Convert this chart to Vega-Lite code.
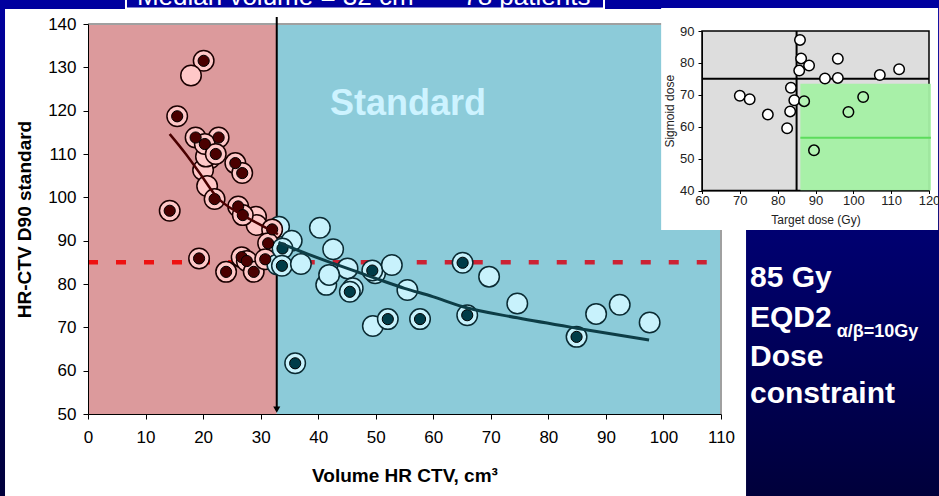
{
  "$schema": "https://vega.github.io/schema/vega-lite/v6.json",
  "width": 633,
  "height": 390,
  "autosize": {"type": "none"},
  "padding": {"left": 88, "top": 24, "right": 218, "bottom": 82},
  "background": "#000080",
  "config": {"font": "Liberation Sans", "view": {"stroke": null}, "axis": {"grid": false}},
  "resolve": {"scale": {"x": "independent", "y": "independent"}},
  "layer": [
    {
      "encoding": {
        "x": {"field": "vol", "type": "quantitative",
          "scale": {"domain": [0, 110], "nice": false, "zero": false},
          "axis": {"title": "Volume HR CTV, cm³", "values": [0,10,20,30,40,50,60,70,80,90,100,110], "orient": "bottom", "zindex": 2,
            "domainColor": "black", "tickColor": "black", "tickSize": 5, "labelFontSize": 17, "labelColor": "black",
            "labelPadding": 10, "labelFlush": false, "labelOverlap": false, "titleFontSize": 19, "titleFontWeight": "bold",
            "titleColor": "black", "titlePadding": 21}},
        "y": {"field": "dose", "type": "quantitative",
          "scale": {"domain": [50, 140], "nice": false, "zero": false},
          "axis": {"title": "HR-CTV D90 standard", "values": [50,60,70,80,90,100,110,120,130,140], "orient": "left", "zindex": 2,
            "domainColor": "black", "tickColor": "black", "tickSize": 5, "labelFontSize": 17, "labelColor": "black",
            "labelPadding": 7, "labelFlush": false, "labelOverlap": false, "titleFontSize": 19, "titleFontWeight": "bold",
            "titleColor": "black", "titlePadding": 13}}
      },
      "layer": [
        {
          "data": {"values": [{"vol": -16, "vol2": 149, "dose": 146, "dose2": 30}]},
          "mark": {"type": "rect", "fill": {"gradient": "linear", "x1": 0, "y1": 0, "x2": 0, "y2": 1,
            "stops": [{"offset": 0, "color": "#0000a0"}, {"offset": 1, "color": "#00003a"}]}},
          "encoding": {"x2": {"field": "vol2"}, "y2": {"field": "dose2"}}
        },
        {
          "data": {"values": [{"vol": -14.42, "vol2": 114.35, "dose": 143.46, "dose2": 30}]},
          "mark": {"type": "rect", "fill": "white"},
          "encoding": {"x2": {"field": "vol2"}, "y2": {"field": "dose2"}}
        },
        {
          "data": {"values": [{"vol": 0, "vol2": 32.8, "dose": 50, "dose2": 140, "zone": "low"}, {"vol": 32.8, "vol2": 110, "dose": 50, "dose2": 140, "zone": "std"}]},
          "mark": {"type": "rect"},
          "encoding": {"x2": {"field": "vol2"}, "y2": {"field": "dose2"},
            "fill": {"condition": {"test": "datum.zone === 'low'", "value": "#dc9a9c"}, "value": "#8ccbd9"}}
        },
        {
          "data": {"values": [{"vol": 0, "vol2": 110, "dose": 140, "dose2": 140}, {"vol": 110, "vol2": 110, "dose": 50, "dose2": 140}]},
          "mark": {"type": "rule", "color": "#a0a0a0", "strokeWidth": 2},
          "encoding": {"x2": {"field": "vol2"}, "y2": {"field": "dose2"}}
        },
        {
          "data": {"values": [{"vol": 42.05, "dose": 119, "label": "Standard"}]},
          "mark": {"type": "text", "align": "left", "baseline": "alphabetic", "fontSize": 36, "fontWeight": "bold", "color": "#cdf3ff"},
          "encoding": {"text": {"field": "label"}}
        },
        {
          "data": {"values": [{"vol": 0, "vol2": 32.8, "dose": 85, "part": "low"}, {"vol": 32.8, "vol2": 110, "dose": 85, "part": "std"}]},
          "mark": {"type": "rule", "strokeWidth": 4.5, "strokeDash": [10, 18]},
          "encoding": {"x2": {"field": "vol2"},
            "color": {"condition": {"test": "datum.part === 'low'", "value": "#ee1111"}, "value": "#cc2233"}}
        },
        {
          "data": {"values": [{"vol": 32.8, "dose": 141.6, "dose2": 51}]},
          "mark": {"type": "rule", "color": "black", "strokeWidth": 2},
          "encoding": {"y2": {"field": "dose2"}}
        },
        {
          "data": {"values": [{"vol": 32.8, "dose": 51}]},
          "mark": {"type": "point", "shape": "triangle-down", "filled": true, "color": "black", "size": 50, "opacity": 1},
          "encoding": {}
        },
        {
          "data": {"values": [
            {"vol": 20.1, "dose": 131.5, "grp": "r", "kind": "b"},
            {"vol": 17.9, "dose": 128.1, "grp": "r", "kind": "o"},
            {"vol": 15.5, "dose": 118.7, "grp": "r", "kind": "b"},
            {"vol": 21.2, "dose": 109.0, "grp": "r", "kind": "o"},
            {"vol": 20.0, "dose": 106.3, "grp": "r", "kind": "o"},
            {"vol": 20.5, "dose": 109.4, "grp": "r", "kind": "o"},
            {"vol": 18.7, "dose": 113.8, "grp": "r", "kind": "b"},
            {"vol": 22.7, "dose": 113.8, "grp": "r", "kind": "b"},
            {"vol": 20.3, "dose": 112.3, "grp": "r", "kind": "b"},
            {"vol": 22.2, "dose": 110.0, "grp": "r", "kind": "b"},
            {"vol": 25.6, "dose": 107.9, "grp": "r", "kind": "b"},
            {"vol": 26.8, "dose": 105.6, "grp": "r", "kind": "b"},
            {"vol": 20.7, "dose": 102.6, "grp": "r", "kind": "o"},
            {"vol": 22.0, "dose": 99.6, "grp": "r", "kind": "b"},
            {"vol": 14.2, "dose": 96.9, "grp": "r", "kind": "b"},
            {"vol": 29.2, "dose": 95.5, "grp": "r", "kind": "o"},
            {"vol": 29.3, "dose": 93.6, "grp": "r", "kind": "o"},
            {"vol": 26.1, "dose": 97.9, "grp": "r", "kind": "b"},
            {"vol": 26.9, "dose": 95.9, "grp": "r", "kind": "b"},
            {"vol": 33.2, "dose": 93.2, "grp": "s", "kind": "o"},
            {"vol": 32.0, "dose": 92.6, "grp": "r", "kind": "b"},
            {"vol": 31.3, "dose": 89.4, "grp": "r", "kind": "b"},
            {"vol": 19.3, "dose": 85.9, "grp": "r", "kind": "b"},
            {"vol": 26.7, "dose": 86.2, "grp": "r", "kind": "b"},
            {"vol": 27.6, "dose": 85.3, "grp": "r", "kind": "b"},
            {"vol": 24.0, "dose": 82.8, "grp": "r", "kind": "b"},
            {"vol": 28.8, "dose": 82.8, "grp": "r", "kind": "b"},
            {"vol": 30.8, "dose": 85.7, "grp": "r", "kind": "b"},
            {"vol": 32.9, "dose": 84.5, "grp": "s", "kind": "o"},
            {"vol": 35.4, "dose": 90.0, "grp": "s", "kind": "o"},
            {"vol": 33.8, "dose": 88.2, "grp": "s", "kind": "b"},
            {"vol": 33.7, "dose": 84.2, "grp": "s", "kind": "b"},
            {"vol": 37.0, "dose": 84.6, "grp": "s", "kind": "o"},
            {"vol": 40.3, "dose": 93.0, "grp": "s", "kind": "o"},
            {"vol": 42.6, "dose": 88.0, "grp": "s", "kind": "o"},
            {"vol": 45.1, "dose": 83.6, "grp": "s", "kind": "o"},
            {"vol": 41.4, "dose": 79.8, "grp": "s", "kind": "o"},
            {"vol": 41.9, "dose": 82.1, "grp": "s", "kind": "o"},
            {"vol": 46.0, "dose": 79.0, "grp": "s", "kind": "o"},
            {"vol": 45.5, "dose": 78.2, "grp": "s", "kind": "b"},
            {"vol": 49.9, "dose": 82.5, "grp": "s", "kind": "o"},
            {"vol": 49.4, "dose": 83.1, "grp": "s", "kind": "b"},
            {"vol": 52.8, "dose": 84.4, "grp": "s", "kind": "o"},
            {"vol": 55.5, "dose": 78.6, "grp": "s", "kind": "o"},
            {"vol": 49.5, "dose": 70.3, "grp": "s", "kind": "o"},
            {"vol": 52.1, "dose": 71.9, "grp": "s", "kind": "b"},
            {"vol": 57.7, "dose": 71.9, "grp": "s", "kind": "b"},
            {"vol": 36.0, "dose": 61.7, "grp": "s", "kind": "b"},
            {"vol": 65.1, "dose": 84.9, "grp": "s", "kind": "b"},
            {"vol": 65.9, "dose": 72.8, "grp": "s", "kind": "b"},
            {"vol": 69.7, "dose": 81.7, "grp": "s", "kind": "o"},
            {"vol": 74.6, "dose": 75.5, "grp": "s", "kind": "o"},
            {"vol": 84.9, "dose": 67.8, "grp": "s", "kind": "b"},
            {"vol": 88.3, "dose": 73.1, "grp": "s", "kind": "o"},
            {"vol": 92.4, "dose": 75.2, "grp": "s", "kind": "o"},
            {"vol": 97.6, "dose": 71.1, "grp": "s", "kind": "o"}
          ]},
          "layer": [
            {
              "mark": {"type": "circle", "size": 420, "opacity": 1, "strokeWidth": 1.5},
              "encoding": {
                "fill": {"condition": {"test": "datum.grp === 'r'", "value": "#ffc8c8"}, "value": "#c8f2fc"},
                "stroke": {"condition": {"test": "datum.grp === 'r'", "value": "#1a0000"}, "value": "#0a2a32"}
              }
            },
            {
              "transform": [{"filter": "datum.kind === 'b'"}],
              "mark": {"type": "circle", "size": 125, "opacity": 1, "strokeWidth": 1, "stroke": "black"},
              "encoding": {
                "fill": {"condition": {"test": "datum.grp === 'r'", "value": "#4a0000"}, "value": "#003c48"}
              }
            }
          ]
        },
        {
          "data": {"values": [
            {"vol": 14.2, "dose": 114.6, "seg": "low"},
            {"vol": 17.0, "dose": 110.0, "seg": "low"},
            {"vol": 19.4, "dose": 105.6, "seg": "low"},
            {"vol": 22.3, "dose": 100.2, "seg": "low"},
            {"vol": 26.3, "dose": 96.3, "seg": "low"},
            {"vol": 29.5, "dose": 94.0, "seg": "low"},
            {"vol": 33.0, "dose": 91.5, "seg": "low"}
          ]},
          "mark": {"type": "line", "color": "#4a0000", "strokeWidth": 2.5, "interpolate": "monotone"},
          "encoding": {}
        },
        {
          "data": {"values": [
            {"vol": 33.1, "dose": 89.6, "seg": "std"},
            {"vol": 37.0, "dose": 87.5, "seg": "std"},
            {"vol": 42.5, "dose": 84.8, "seg": "std"},
            {"vol": 50.0, "dose": 81.3, "seg": "std"},
            {"vol": 55.0, "dose": 79.0, "seg": "std"},
            {"vol": 59.9, "dose": 77.1, "seg": "std"},
            {"vol": 65.0, "dose": 74.8, "seg": "std"},
            {"vol": 74.6, "dose": 72.2, "seg": "std"},
            {"vol": 84.9, "dose": 69.8, "seg": "std"},
            {"vol": 97.5, "dose": 67.1, "seg": "std"}
          ]},
          "mark": {"type": "line", "color": "#0d3d46", "strokeWidth": 3, "interpolate": "monotone"},
          "encoding": {}
        },
        {
          "data": {"values": [{"vol": 6.6, "vol2": 89.67, "dose": 143.58, "dose2": 148}]},
          "mark": {"type": "rect", "filled": false, "stroke": "white", "strokeWidth": 2},
          "encoding": {"x2": {"field": "vol2"}, "y2": {"field": "dose2"}}
        },
        {
          "data": {"values": [{"vol": 8.5, "dose": 144.38, "label": "Median volume = 32 cm³"}, {"vol": 65.2, "dose": 144.38, "label": "78 patients"}]},
          "mark": {"type": "text", "align": "left", "baseline": "alphabetic", "fontSize": 26, "color": "white"},
          "encoding": {"text": {"field": "label"}}
        },
        {
          "data": {"values": [
            {"vol": 115.04, "dose": 79.3, "label": "85 Gy"},
            {"vol": 115.04, "dose": 70.1, "label": "EQD2"},
            {"vol": 115.04, "dose": 61.1, "label": "Dose"},
            {"vol": 115.04, "dose": 52.5, "label": "constraint"}
          ]},
          "mark": {"type": "text", "align": "left", "baseline": "alphabetic", "fontSize": 30, "fontWeight": "bold", "color": "white"},
          "encoding": {"text": {"field": "label"}}
        },
        {
          "data": {"values": [{"vol": 130.1, "dose": 67.8, "label": "α/β=10Gy"}]},
          "mark": {"type": "text", "align": "left", "baseline": "alphabetic", "fontSize": 18, "fontWeight": "bold", "color": "white"},
          "encoding": {"text": {"field": "label"}}
        }
      ]
    },
    {
      "encoding": {
        "x": {"field": "td", "type": "quantitative",
          "scale": {"domain": [60, 120], "range": [614, 841], "nice": false, "zero": false},
          "axis": {"title": "Target dose (Gy)", "orient": "bottom", "offset": -223.5, "values": [60,70,80,90,100,110,120], "zindex": 2,
            "domainColor": "black", "tickColor": "black", "tickSize": 3, "labelFontSize": 13, "labelColor": "#222222",
            "labelPadding": 1, "labelFlush": false, "labelOverlap": false, "titleFontSize": 12, "titleFontWeight": "normal",
            "titleColor": "#222222", "titlePadding": 7}},
        "y": {"field": "sd", "type": "quantitative",
          "scale": {"domain": [40, 90], "range": [166.5, 7], "nice": false, "zero": false},
          "axis": {"title": "Sigmoid dose", "orient": "left", "offset": -614, "values": [40,50,60,70,80,90], "zindex": 2,
            "domainColor": "black", "tickColor": "black", "tickSize": 4, "labelFontSize": 13, "labelColor": "#222222",
            "labelPadding": 4, "labelFlush": false, "labelOverlap": false, "titleFontSize": 12, "titleFontWeight": "normal",
            "titleColor": "#222222", "titlePadding": 3}}
      },
      "layer": [
        {
          "data": {"values": [{"td": 49.2, "td2": 122.4, "sd": 97.2, "sd2": 27.6}]},
          "mark": {"type": "rect", "fill": "white"},
          "encoding": {"x2": {"field": "td2"}, "y2": {"field": "sd2"}}
        },
        {
          "data": {"values": [{"td": 60, "td2": 120, "sd": 40, "sd2": 90}]},
          "mark": {"type": "rect", "fill": "#dddddd", "stroke": "black", "strokeWidth": 1.5},
          "encoding": {"x2": {"field": "td2"}, "y2": {"field": "sd2"}}
        },
        {
          "data": {"values": [{"td": 86, "td2": 120.5, "sd": 40, "sd2": 73.5}]},
          "mark": {"type": "rect", "fill": "#a4f0a4", "opacity": 0.95},
          "encoding": {"x2": {"field": "td2"}, "y2": {"field": "sd2"}}
        },
        {
          "data": {"values": [{"td": 86, "td2": 120.5, "sd": 56.5, "sd2": 56.5}]},
          "mark": {"type": "rule", "color": "#5cdc5c", "strokeWidth": 2},
          "encoding": {"x2": {"field": "td2"}, "y2": {"field": "sd2"}}
        },
        {
          "data": {"values": [{"td": 60, "td2": 120, "sd": 75, "sd2": 75}, {"td": 85, "td2": 85, "sd": 40, "sd2": 90}]},
          "mark": {"type": "rule", "color": "black", "strokeWidth": 2},
          "encoding": {"x2": {"field": "td2"}, "y2": {"field": "sd2"}}
        },
        {
          "data": {"values": [
            {"td": 85.9, "sd": 87.2}, {"td": 86.2, "sd": 81.4}, {"td": 88.3, "sd": 79.2}, {"td": 85.7, "sd": 77.6},
            {"td": 92.5, "sd": 75.1}, {"td": 95.9, "sd": 81.3}, {"td": 95.9, "sd": 75.3}, {"td": 107.0, "sd": 76.2},
            {"td": 112.1, "sd": 78.0}, {"td": 83.5, "sd": 72.2}, {"td": 70.0, "sd": 69.7}, {"td": 72.6, "sd": 68.6},
            {"td": 77.4, "sd": 63.8}, {"td": 83.3, "sd": 64.8}, {"td": 82.5, "sd": 59.5}, {"td": 84.4, "sd": 68.3},
            {"td": 87.0, "sd": 68.0}, {"td": 98.7, "sd": 64.6}, {"td": 102.6, "sd": 69.3}, {"td": 89.6, "sd": 52.6}
          ]},
          "mark": {"type": "circle", "size": 110, "opacity": 1, "stroke": "black", "strokeWidth": 1.5},
          "encoding": {
            "fill": {"condition": {"test": "datum.td > 86 && datum.sd < 73.5", "value": "#b4f4b4"}, "value": "white"}
          }
        }
      ]
    }
  ]
}
